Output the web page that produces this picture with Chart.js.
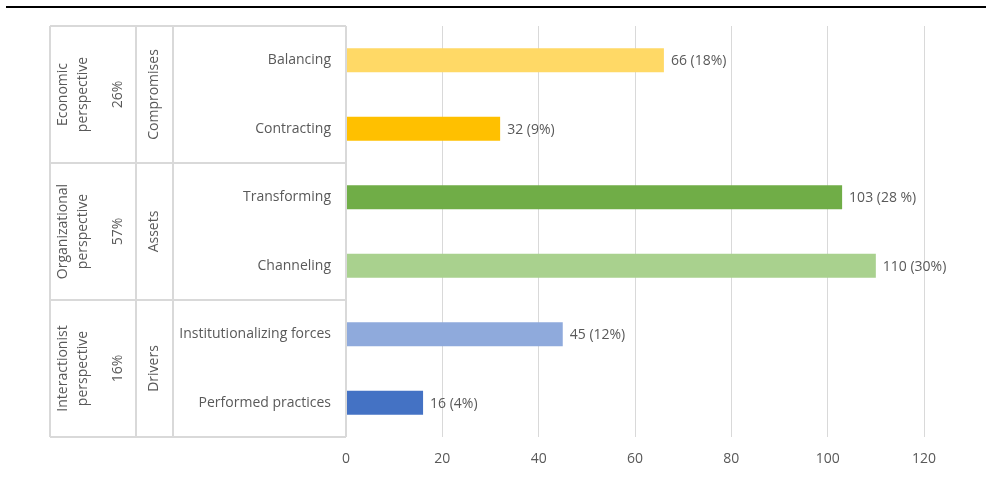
<!DOCTYPE html>
<html>
<head>
<meta charset="utf-8">
<script src="https://cdn.jsdelivr.net/npm/chart.js@4/dist/chart.umd.min.js"></script>
<style>
   html, body { margin: 0; padding: 0; background: #fff; }
   #wrap { width: 986px; height: 480px; position: relative; }
</style>
</head>
<body>
<div id="wrap"><canvas id="chart"></canvas></div>
<script>
// Data
// ----------------------------------------------
const categories  = [ 'Balancing', 'Contracting', 'Transforming', 'Channeling', 'Institutionalizing forces', 'Performed practices' ];
const counts      = [ 66, 32, 103, 110, 45, 16 ];
const shares      = [ '18%', '9%', '28 %', '30%', '12%', '4%' ];
const barColors   = [ '#FFD966', '#FFC000', '#70AD47', '#A9D18E', '#8FAADC', '#4472C4' ];
const mechanisms  = [ 'Compromises', 'Assets', 'Drivers' ];
const perspectives      = [ [ 'Economic', 'perspective' ], [ 'Organizational', 'perspective' ], [ 'Interactionist', 'perspective' ] ];
const perspectiveShares = [ '26%', '57%', '16%' ];
const xTicks      = [ 0, 20, 40, 60, 80, 100, 120 ];

const textColor = '#595959';
const lineColor = '#D9D9D9';
const fontFamily = '"Open Sans", sans-serif';


// Top rule + left table drawn on the canvas
// ----------------------------------------------
const tablePlugin = {
   id: 'sideTable',
   afterDraw( chart ) {
      const ctx  = chart.ctx;
      const area = chart.chartArea;
      const y    = chart.scales.y;

      // black rule on top
      ctx.save();
      ctx.fillStyle = '#000';
      ctx.fillRect( 6, 6, 980, 2 );

      const left = 50, col1 = 136, col2 = 173, right = area.left;
      const rows = [ area.top ];
      for ( let g = 1; g < mechanisms.length; g++ ) {
         rows.push( ( y.getPixelForValue( g * 2 - 1 ) + y.getPixelForValue( g * 2 ) ) / 2 );
      }
      rows.push( area.bottom );

      ctx.strokeStyle = lineColor;
      ctx.lineWidth = 2;
      ctx.beginPath();
      rows.forEach( r => { ctx.moveTo( left, r ); ctx.lineTo( right, r ); } );
      [ left, col1, col2, right ].forEach( c => { ctx.moveTo( c, area.top ); ctx.lineTo( c, area.bottom ); } );
      ctx.stroke();

      ctx.fillStyle = textColor;
      ctx.font = '14px ' + fontFamily;
      ctx.textAlign = 'center';
      ctx.textBaseline = 'middle';
      const rotText = ( t, x, cy ) => {
         ctx.save();
         ctx.translate( x, cy );
         ctx.rotate( -Math.PI / 2 );
         ctx.fillText( t, 0, 0 );
         ctx.restore();
      };
      for ( let g = 0; g < mechanisms.length; g++ ) {
         const cy = ( rows[g] + rows[g + 1] ) / 2;
         rotText( perspectives[g][0], 63, cy );
         rotText( perspectives[g][1], 83, cy );
         rotText( perspectiveShares[g], 118, cy );
         rotText( mechanisms[g], 154, cy );
      }

      // value labels
      ctx.textAlign = 'left';
      const meta = chart.getDatasetMeta( 0 );
      meta.data.forEach( ( bar, i ) => {
         ctx.fillText( counts[i] + ' (' + shares[i] + ')', bar.x + 7, bar.y + 1 );
      });
      ctx.restore();
   }
};


// Bar Chart
// ----------------------------------------------
new Chart( document.getElementById( 'chart' ), {
   type: 'bar',
   data: {
      labels: categories,
      datasets: [{
         data: counts,
         backgroundColor: barColors,
         borderWidth: 0,
         barPercentage: 0.35,
         categoryPercentage: 1
      }]
   },
   options: {
      indexAxis: 'y',
      responsive: true,
      maintainAspectRatio: false,
      animation: false,
      layout: {
         padding: { top: 26, right: 62, left: 0, bottom: 0 }
      },
      plugins: {
         legend: { display: false },
         tooltip: { enabled: false }
      },
      scales: {
         x: {
            min: 0,
            max: 120,
            afterBuildTicks: scale => { scale.ticks = xTicks.map( v => ( { value: v } ) ); },
            afterFit: scale => { scale.height = 43; },
            grid: {
               color: lineColor,
               lineWidth: 1,
               drawTicks: false
            },
            border: { display: false },
            ticks: {
               font: { size: 14, family: fontFamily },
               color: textColor,
               padding: 14,
               maxRotation: 0
            }
         },
         y: {
            afterFit: scale => { scale.width = 346; },
            grid: { display: false, drawTicks: false },
            border: { display: false },
            ticks: {
               font: { size: 14, family: fontFamily },
               color: textColor,
               padding: 15
            }
         }
      }
   },
   plugins: [ tablePlugin ]
});
</script>
</body>
</html>
